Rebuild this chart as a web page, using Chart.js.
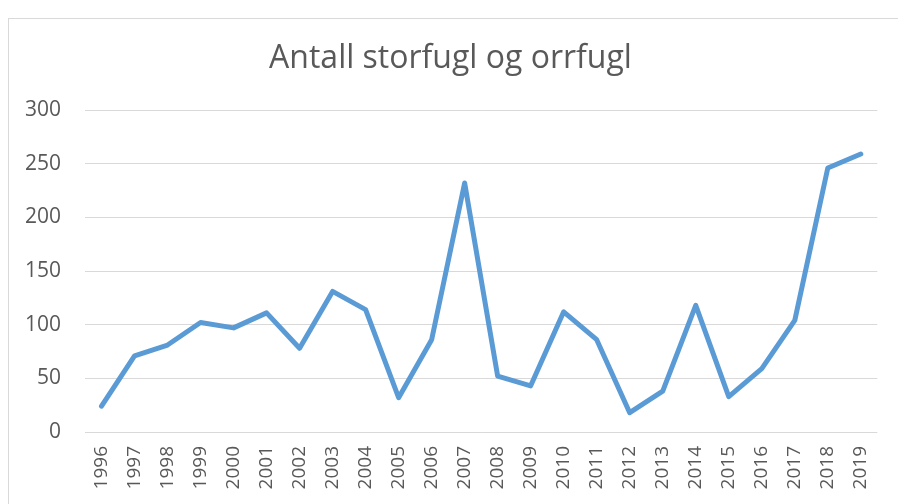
<!DOCTYPE html>
<html>
<head>
<meta charset="utf-8">
<script src="https://cdn.jsdelivr.net/npm/chart.js@4"></script>
<style>
    html, body { margin: 0; padding: 0; background: #fff; }
    #wrap { position: relative; width: 898px; height: 504px; overflow: hidden; }
    #frame { position: absolute; left: 8px; top: 18px; width: 1000px; height: 600px; border: 1px solid #d9d9d9; }
    canvas { position: absolute; left: 0; top: 0; }
</style>
</head>
<body>
<div id="wrap">
    <div id="frame"></div>
    <canvas id="chart" width="898" height="504"></canvas>
</div>
<script>
const years = ['1996', '1997', '1998', '1999', '2000', '2001', '2002', '2003', '2004', '2005', '2006', '2007',
               '2008', '2009', '2010', '2011', '2012', '2013', '2014', '2015', '2016', '2017', '2018', '2019'];
const antall = [24, 71, 81, 102, 97, 111, 78, 131, 114, 32, 86, 232,
                52, 43, 112, 86, 18, 38, 118, 33, 59, 104, 246, 259];
const yTicks = [0, 50, 100, 150, 200, 250, 300];

document.addEventListener('DOMContentLoaded', function() {
    const ctx = document.getElementById('chart');

    new Chart(ctx, {
        type: 'line',
        data: {
            labels: years,
            datasets: [{
                label: 'Antall',
                data: antall,
                borderColor: '#5b9bd5',
                backgroundColor: '#5b9bd5',
                borderWidth: 5,
                pointRadius: 0,
                tension: 0,
                borderJoinStyle: 'round',
                borderCapStyle: 'round'
            }]
        },
        options: {
            responsive: false,
            animation: false,
            // some left padding nudges the title centre right, like the reference
            layout: { padding: { left: 22, right: 19, top: 0, bottom: 0 } },
            scales: {
                x: {
                    offset: true,
                    grid: { display: false, drawTicks: false },
                    border: { display: false },
                    ticks: {
                        minRotation: 90,
                        maxRotation: 90,
                        autoSkip: false,
                        padding: 14,
                        color: '#595959',
                        font: { family: 'Open Sans', size: 19 }
                    },
                    afterFit: function(scale) { scale.height = 72; }
                },
                y: {
                    min: 0,
                    max: 300,
                    afterBuildTicks: function(scale) {
                        scale.ticks = yTicks.map(v => ({ value: v }));
                    },
                    grid: { color: '#d9d9d9', lineWidth: 1, drawTicks: false },
                    border: { display: false },
                    ticks: {
                        padding: 24,
                        color: '#595959',
                        font: { family: 'Open Sans', size: 21 }
                    },
                    afterFit: function(scale) { scale.width = 63; }
                }
            },
            plugins: {
                legend: { display: false },
                tooltip: { enabled: false },
                title: {
                    display: true,
                    text: 'Antall storfugl og orrfugl',
                    color: '#595959',
                    font: { family: 'Open Sans', size: 32, weight: 'normal', lineHeight: 1.2 },
                    padding: { top: 40, bottom: 31.6 }
                }
            }
        }
    });
});
</script>
</body>
</html>
